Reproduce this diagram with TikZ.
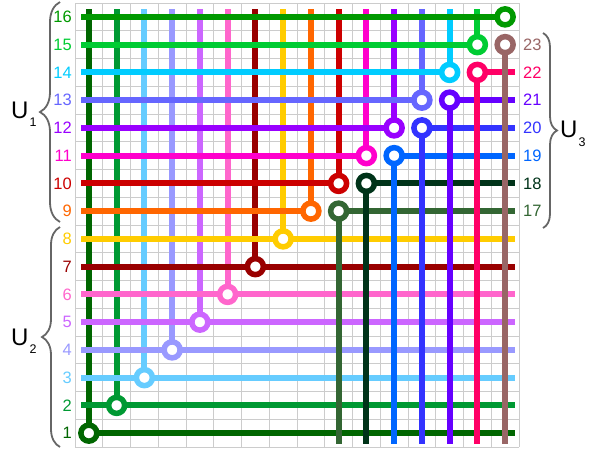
\documentclass[tikz,border=0pt]{standalone}
\usepackage{fontspec}
\setmainfont{Liberation Sans}
\usetikzlibrary{decorations.pathreplacing}
\definecolor{c1}{HTML}{006600}
\definecolor{c2}{HTML}{009933}
\definecolor{c3}{HTML}{66CCFF}
\definecolor{c4}{HTML}{9999FF}
\definecolor{c5}{HTML}{CC66FF}
\definecolor{c6}{HTML}{FF66CC}
\definecolor{c7}{HTML}{990000}
\definecolor{c8}{HTML}{FFCC00}
\definecolor{c9}{HTML}{FF6600}
\definecolor{c10}{HTML}{CC0000}
\definecolor{c11}{HTML}{FF00CC}
\definecolor{c12}{HTML}{9900FF}
\definecolor{c13}{HTML}{6666FF}
\definecolor{c14}{HTML}{00CCFF}
\definecolor{c15}{HTML}{00CC33}
\definecolor{c16}{HTML}{009900}
\definecolor{c17}{HTML}{336633}
\definecolor{c18}{HTML}{003319}
\definecolor{c19}{HTML}{0066FF}
\definecolor{c20}{HTML}{3333FF}
\definecolor{c21}{HTML}{6600FF}
\definecolor{c22}{HTML}{FF0066}
\definecolor{c23}{HTML}{996666}
\definecolor{bracegray}{HTML}{666666}
\definecolor{gridgray}{HTML}{CCCCCC}
\begin{document}
\begin{tikzpicture}[x=1pt,y=-1pt,
  gridline/.style={draw=gridgray, line width=1pt},
  wire/.style={line width=6pt},
  ring/.style={circle, fill=white, line width=5.5pt, minimum size=16pt, inner sep=0pt},
  lab/.style={inner sep=0pt, font=\fontsize{16.5}{16.5}\selectfont},
  ulab/.style={inner sep=0pt, anchor=base west, font=\fontsize{24}{24}\selectfont},
  bracestyle/.style={draw=bracegray, line width=1.8pt, decorate}
]
\useasboundingbox (0,0) rectangle (589,453);
% grid
\foreach \i in {0,...,16} {
  \draw[gridline] ({75+27.75*\i},3) -- ({75+27.75*\i},447);
  \draw[gridline] (75,{3+27.75*\i}) -- (519,{3+27.75*\i});
}
% coordinates
\foreach \k in {1,...,16} {
  \coordinate (p\k) at ({75+27.75*(\k-0.5)},{447-27.75*(\k-0.5)});
  \coordinate (t\k) at ({75+27.75*(\k-0.5)},9);
  \coordinate (l\k) at (81,{447-27.75*(\k-0.5)});
  \coordinate (r\k) at (515,{447-27.75*(\k-0.5)});
}
\foreach \j in {17,...,23} {
  \pgfmathtruncatemacro\cc{\j-7}
  \pgfmathtruncatemacro\rr{\j-8}
  \coordinate (p\j) at ({75+27.75*(\cc-0.5)},{447-27.75*(\rr-0.5)});
  \coordinate (b\j) at ({75+27.75*(\cc-0.5)},444);
  \coordinate (r\j) at (515,{447-27.75*(\rr-0.5)});
}
% verticals of U1 and U2
\foreach \k in {1,...,16} \draw[wire, draw=c\k] (t\k) -- (p\k);
% horizontals of U1 and U2
\foreach \k in {1,...,8} \draw[wire, draw=c\k] (l\k) -- (r\k);
\foreach \k in {9,...,16} \draw[wire, draw=c\k] (l\k) -- (p\k);
% U3
\foreach \j in {17,...,23} \draw[wire, draw=c\j] (p\j) -- (r\j);
\foreach \j in {17,...,23} \draw[wire, draw=c\j] (p\j) -- (b\j);
% rings
\foreach \k in {1,...,23} \node[ring, draw=c\k] (n\k) at (p\k) {};
% labels
\foreach \k in {1,...,16} \node[lab, text=c\k, anchor=east] (L\k) at (72,{447-27.75*(\k-0.5)}) {\k};
\foreach \j in {17,...,23} {
  \pgfmathtruncatemacro\rr{\j-8}
  \node[lab, text=c\j, anchor=west] (L\j) at (523,{447-27.75*(\rr-0.5)}) {\j};
}
% braces
\draw[bracestyle, decoration={brace, amplitude=20pt}] (60,222) -- (60,2);
\draw[bracestyle, decoration={brace, amplitude=18pt}] (60,447) -- (60,227);
\draw[bracestyle, decoration={brace, amplitude=14pt}] (543,33) -- (543,228);
\node[ulab] (U1) at (11,118) {U\hspace{1pt}\raisebox{-8.5pt}{\fontsize{12.5}{12.5}\selectfont 1}};
\node[ulab] (U2) at (11,345) {U\hspace{1pt}\raisebox{-8.5pt}{\fontsize{12.5}{12.5}\selectfont 2}};
\node[ulab] (U3) at (560,137) {U\hspace{1pt}\raisebox{-9pt}{\fontsize{12.5}{12.5}\selectfont 3}};
\end{tikzpicture}
\end{document}
